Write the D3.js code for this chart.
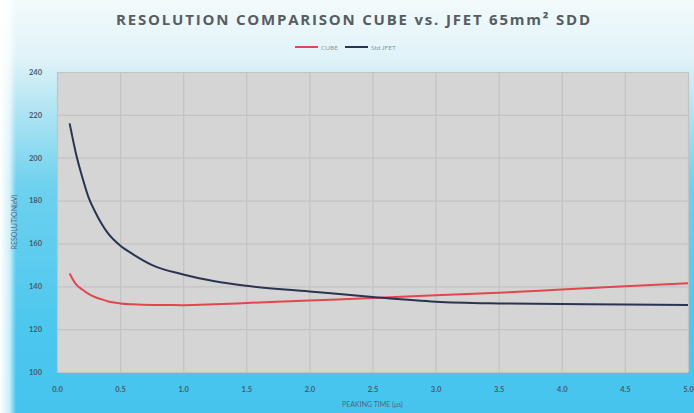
<!DOCTYPE html>
<html><head><meta charset="utf-8">
<script src="https://cdn.jsdelivr.net/npm/d3@7"></script>
<style>html,body{margin:0;padding:0;background:#fff;}svg{display:block;}</style>
</head><body>
<div id="chart"></div>
<script>
const peakingTime = [0.1,0.15,0.2,0.25,0.3,0.35,0.4,0.5,0.6,0.75,1.0,1.25,1.5,2.0,2.5,3.0,3.5,4.0,4.5,5.0];
const cubeRes =     [146,141,138.5,136.5,135,134,133,132,131.6,131.3,131.2,131.6,132.2,133.4,134.5,135.8,137,138.5,140,141.4];
const jfetRes =     [216,202,191,181.5,175,169.5,165,159,155,150,145.5,142.3,140.2,137.6,135,132.8,132,131.7,131.5,131.3];
const xTicks = [0,0.5,1.0,1.5,2.0,2.5,3.0,3.5,4.0,4.5,5.0];
const yTicks = [100,120,140,160,180,200,220,240];
const seriesNames = ["CUBE","Std JFET"];
const seriesColors = ["#e2474f","#2b3352"];

const W=694,H=413;
const m={l:57,r:6,t:72,b:41};
const svg=d3.select("#chart").append("svg").attr("width",W).attr("height",H);
const defs=svg.append("defs");
const g1=defs.append("linearGradient").attr("id","bg").attr("x1",0).attr("y1",0).attr("x2",0).attr("y2",1);
[[0,"#f3fafc"],[0.14,"#e0f3f8"],[0.2,"#c9ecf5"],[0.45,"#6ed1ee"],[0.8,"#4cc7ee"],[1,"#46c4ee"]].forEach(s=>g1.append("stop").attr("offset",s[0]).attr("stop-color",s[1]));
const g2=defs.append("linearGradient").attr("id","lw").attr("x1",0).attr("y1",0).attr("x2",1).attr("y2",0);
[[0,"#ffffff",1],[0.6,"#ffffff",0.7],[1,"#ffffff",0]].forEach(s=>g2.append("stop").attr("offset",s[0]).attr("stop-color",s[1]).attr("stop-opacity",s[2]));
svg.append("rect").attr("width",W).attr("height",H).attr("fill","url(#bg)");
svg.append("rect").attr("width",16).attr("height",H).attr("fill","url(#lw)");

const x=d3.scaleLinear().domain([0,5]).range([m.l,W-m.r]);
const y=d3.scaleLinear().domain([100,240]).range([H-m.b,m.t]);

svg.append("rect").attr("x",x(0)).attr("y",y(240)).attr("width",x(5)-x(0)).attr("height",y(100)-y(240)).attr("fill","#d5d5d5");

// grid
svg.append("g").attr("transform",`translate(0,${y(100)})`)
  .call(d3.axisBottom(x).tickValues(xTicks).tickSize(-(y(100)-y(240))).tickFormat(""))
  .call(g=>{g.select(".domain").remove();g.selectAll("line").attr("stroke","#c3c3c3").attr("stroke-width",1.2);});
svg.append("g").attr("transform",`translate(${x(0)},0)`)
  .call(d3.axisLeft(y).tickValues(yTicks).tickSize(-(x(5)-x(0))).tickFormat(""))
  .call(g=>{g.select(".domain").remove();g.selectAll("line").attr("stroke","#c3c3c3").attr("stroke-width",1.2);});

// tick labels
svg.append("g").attr("transform",`translate(0,${y(100)+12})`)
  .call(d3.axisBottom(x).tickValues(xTicks).tickSize(0).tickFormat(d3.format(".1f")))
  .call(g=>{g.select(".domain").remove();g.selectAll("text").attr("fill","#4a5a66").attr("font-family","Lato, sans-serif").attr("font-size",7.5).attr("font-weight","bold");});
svg.append("g").attr("transform",`translate(${x(0)-12},0)`)
  .call(d3.axisLeft(y).tickValues(yTicks).tickSize(0).tickFormat(d3.format("d")))
  .call(g=>{g.select(".domain").remove();g.selectAll("text").attr("fill","#4a5a66").attr("font-family","Lato, sans-serif").attr("font-size",7.5).attr("font-weight","bold");});

// lines
const line=d3.line().x((d,i)=>x(peakingTime[i])).y(d=>y(d)).curve(d3.curveMonotoneX);
[cubeRes,jfetRes].forEach((s,k)=>{
  svg.append("path").datum(s).attr("d",line).attr("fill","none").attr("stroke",seriesColors[k]).attr("stroke-width",2);
});

// title
svg.append("text").attr("x",354).attr("y",25).attr("text-anchor","middle")
  .attr("font-family","'Open Sans', sans-serif").attr("font-weight","bold").attr("font-size",15)
  .attr("letter-spacing",1.8).attr("fill","#575d62")
  .text("RESOLUTION COMPARISON CUBE vs. JFET 65mm² SDD");

// legend
const leg=[{x:295,name:seriesNames[0],c:seriesColors[0]},{x:345,name:seriesNames[1],c:seriesColors[1]}];
leg.forEach(l=>{
  svg.append("line").attr("x1",l.x).attr("x2",l.x+23).attr("y1",47).attr("y2",47).attr("stroke",l.c).attr("stroke-width",2);
  svg.append("text").attr("x",l.x+26).attr("y",49.5).attr("font-family","Lato, sans-serif").attr("font-size",6.5).attr("fill","#8a9aa4").text(l.name);
});

// axis titles
svg.append("text").attr("x",(x(0)+x(5))/2).attr("y",407).attr("text-anchor","middle")
  .attr("font-family","Lato, sans-serif").attr("font-size",7).attr("fill","#4d6a80").text("PEAKING TIME (μs)");
svg.append("text").attr("transform",`translate(17,${(y(100)+y(240))/2}) rotate(-90)`).attr("text-anchor","middle")
  .attr("font-family","Lato, sans-serif").attr("font-size",7).attr("fill","#4d6a80").text("RESOLUTION(eV)");
</script>
</body></html>
